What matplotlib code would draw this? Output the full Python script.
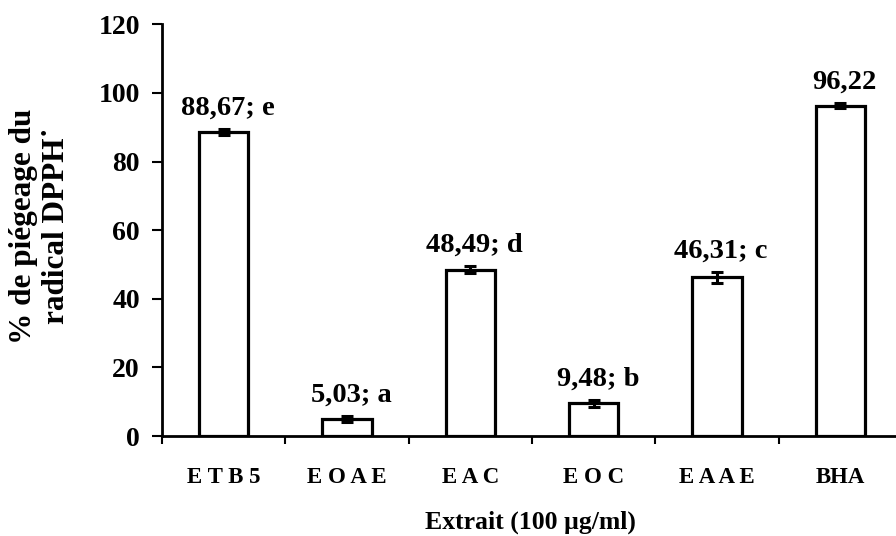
import matplotlib
matplotlib.use('Agg')
import matplotlib.pyplot as plt
import numpy as np

plt.rcParams['font.family'] = ['Liberation Serif', 'DejaVu Serif']
plt.rcParams['font.weight'] = 'bold'

extraits = ['E T B 5', 'E O A E', 'E A C', 'E O C', 'E A A E', 'BHA']
piegeage = [88.67, 5.03, 48.49, 9.48, 46.31, 96.22]
erreurs = [0.8, 0.9, 1.0, 1.1, 1.6, 0.7]
etiquettes = ['88,67; e', '5,03; a', '48,49; d', '9,48; b', '46,31; c', '96,22']

fig = plt.figure(figsize=(8.96, 5.36), dpi=100)
# axes run a little past the right edge of the figure
ax = fig.add_axes([162 / 896, 1 - 436 / 536, 740 / 896, (436 - 24.3) / 536])

x = np.arange(len(extraits))
ax.bar(x, piegeage, width=0.40, color='white', edgecolor='black', linewidth=2.3,
       zorder=2)
ax.errorbar(x, piegeage, yerr=erreurs, fmt='none', ecolor='black',
            elinewidth=2.2, capsize=4.5, capthick=2.2, zorder=3)

for xi, v, e, t in zip(x, piegeage, erreurs, etiquettes):
    ax.annotate(t, (xi, v + e), xytext=(3, 6), textcoords='offset points',
                ha='center', va='bottom', fontsize=20.5, fontweight='bold')

ax.set_xlim(-0.5, len(extraits) - 0.5)
ax.set_ylim(0, 120)
ax.set_yticks(np.arange(0, 121, 20))
ax.set_xticks(np.arange(len(extraits) + 1) - 0.5, minor=False)
ax.set_xticklabels([])
ax.set_xticks(x, minor=True)
ax.set_xticklabels(extraits, minor=True)

ax.tick_params(axis='y', which='major', direction='out', length=7, width=1.5,
               labelsize=20, pad=9)
ax.tick_params(axis='x', which='major', direction='out', length=6, width=1.5)
ax.tick_params(axis='x', which='minor', length=0, labelsize=16.5, pad=22)
for lbl in ax.get_yticklabels() + ax.get_xticklabels(minor=True):
    lbl.set_fontweight('bold')

for side in ['top', 'right']:
    ax.spines[side].set_visible(False)
ax.spines['left'].set_linewidth(2)
ax.spines['bottom'].set_linewidth(2)

fig.text(530 / 896, 1 - 522 / 536, 'Extrait (100 µg/ml)', ha='center',
         va='center', fontsize=18.5, fontweight='bold')
fig.text(40 / 896, 1 - 226 / 536,
         '% de piégeage du\nradical DPPH\u02d9', rotation=90,
         ha='center', va='center', fontsize=22.5, fontweight='bold',
         linespacing=1.15)

fig.savefig('out.png', dpi=100)
